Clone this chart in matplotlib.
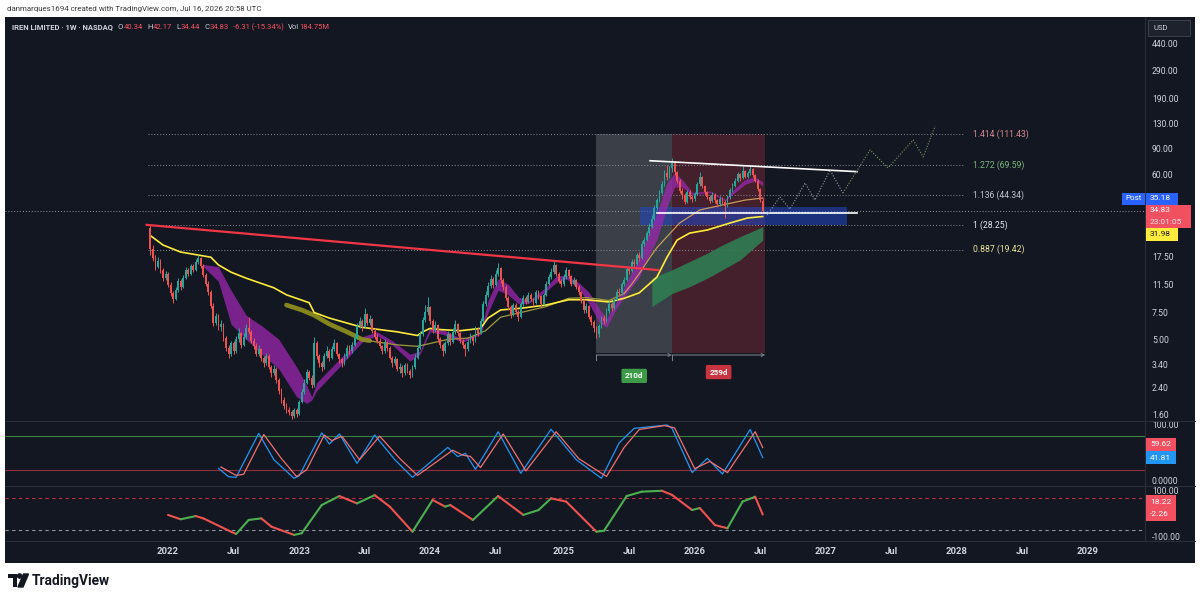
import numpy as np
import matplotlib.pyplot as plt
from matplotlib.patches import Rectangle, Circle, Polygon
from matplotlib.collections import LineCollection
from matplotlib.ticker import NullLocator

plt.rcParams['font.family'] = ['Roboto', 'DejaVu Sans']

W, H = 1200, 600
BG = '#131722'
TXT = '#d1d4dc'
UP = '#26a69a'
DOWN = '#ef5350'
RED = '#f7525f'

# ---- weekly candles, first bar = week of 2021-11-15 ----
week0 = np.datetime64('2021-11-15')
first_open = 27.0
last_open = 40.34
closes = [
    19.5, 17.2, 15.0, 16.4, 14.2, 12.6, 13.4, 11.4, 10.0, 9.2,
    10.6, 12.1, 11.0, 12.7, 14.3, 13.5, 15.1, 14.2, 16.1, 17.0,
    15.2, 13.3, 11.6, 10.2, 8.3, 6.4, 7.1, 6.0, 6.3, 5.1,
    4.4, 4.0, 4.7, 4.2, 5.0, 5.5, 4.6, 5.2, 5.9, 5.6,
    4.9, 4.5, 4.0, 4.3, 3.8, 3.5, 3.9, 3.3, 3.0, 3.2,
    2.7, 2.3, 2.0, 1.82, 1.72, 1.68, 1.56, 1.72, 1.62, 1.95,
    2.25, 2.6, 3.05, 2.8, 2.5, 4.7, 3.9, 3.5, 3.3, 3.9,
    4.2, 3.8, 4.3, 4.7, 4.0, 3.7, 3.5, 3.9, 4.4, 4.2,
    4.6, 5.1, 6.1, 6.6, 6.0, 7.3, 6.4, 6.8, 5.7, 5.2,
    4.9, 4.5, 4.2, 4.8, 4.4, 3.8, 3.5, 3.7, 3.2, 3.3,
    3.0, 3.4, 3.1, 2.9, 3.3, 3.8, 4.4, 5.4, 6.7, 7.6,
    8.1, 6.6, 5.8, 6.2, 5.0, 4.6, 4.2, 4.7, 5.4, 4.8,
    5.6, 6.3, 5.5, 4.9, 4.6, 4.3, 4.8, 5.2, 4.9, 5.8,
    5.5, 6.6, 8.5, 9.8, 11.2, 12.5, 11.4, 13.5, 14.8, 12.2,
    11.0, 9.3, 8.2, 7.3, 8.4, 7.6, 7.0, 8.5, 9.4, 8.8,
    9.8, 9.2, 8.6, 10.2, 9.6, 8.5, 9.8, 11.6, 12.9, 13.8,
    15.3, 13.4, 12.1, 11.5, 12.8, 14.2, 13.0, 11.6, 12.2, 11.0,
    10.2, 9.0, 7.8, 8.3, 7.0, 6.5, 5.9, 5.4, 6.1, 6.9,
    6.6, 7.7, 8.5, 8.0, 9.1, 10.3, 10.0, 11.5, 12.2, 14.4,
    14.0, 16.2, 15.5, 17.8, 17.0, 21.2, 22.4, 24.8, 27.5, 31.0,
    36.3, 40.8, 45.5, 52.0, 62.0, 58.0, 66.5, 72.0, 62.5, 55.0,
    47.0, 44.0, 40.0, 46.5, 43.0, 41.5, 45.0, 52.0, 58.0, 50.5,
    46.0, 43.0, 40.5, 44.5, 41.0, 38.5, 42.0, 40.0, 37.5, 43.0,
    47.5, 51.0, 55.0, 60.5, 57.0, 64.0, 58.5, 61.5, 66.0, 60.0,
    55.0, 48.5, 41.14, 34.83]
highs = [
    28.25, 20.8, 17.9, 17.3, 16.9, 14.8, 14.1, 13.8, 11.9, 10.4,
    11.0, 12.6, 12.4, 13.2, 15.0, 14.8, 15.7, 15.5, 16.8, 17.8,
    17.4, 15.6, 13.7, 12.0, 10.5, 8.6, 7.5, 7.3, 6.7, 6.4,
    5.3, 4.6, 4.9, 4.9, 5.3, 5.9, 5.6, 5.5, 6.3, 7.0,
    5.8, 5.1, 4.7, 4.6, 4.4, 3.9, 4.1, 4.0, 3.4, 3.4,
    3.3, 2.8, 2.4, 2.1, 1.9, 1.8, 1.72, 1.78, 1.76, 2.0,
    2.35, 2.75, 3.2, 3.15, 2.9, 5.2, 4.9, 4.0, 3.6, 4.1,
    4.5, 4.3, 4.5, 5.0, 4.8, 4.1, 3.8, 4.1, 4.6, 4.6,
    4.8, 5.4, 6.4, 7.0, 6.8, 8.0, 7.5, 7.2, 6.9, 5.9,
    5.4, 5.1, 4.6, 5.0, 4.9, 4.5, 3.9, 3.9, 3.8, 3.5,
    3.4, 3.5, 3.5, 3.2, 3.4, 4.0, 4.6, 5.7, 7.0, 8.4,
    9.5, 8.3, 6.8, 6.6, 6.3, 5.2, 4.7, 4.9, 5.7, 5.5,
    5.9, 6.7, 6.4, 5.6, 5.0, 4.7, 5.0, 5.5, 5.3, 6.1,
    6.0, 6.9, 8.9, 10.4, 11.9, 13.3, 12.8, 14.2, 15.8, 15.0,
    12.6, 11.3, 9.6, 8.4, 8.7, 8.6, 7.8, 8.8, 9.8, 9.6,
    10.2, 10.1, 9.4, 10.5, 10.5, 9.8, 10.1, 12.0, 13.5, 14.6,
    16.3, 15.6, 13.8, 12.5, 13.4, 15.0, 14.4, 13.3, 12.8, 12.4,
    11.3, 10.4, 9.2, 8.7, 8.4, 7.2, 6.7, 6.1, 6.3, 7.1,
    7.2, 8.0, 8.9, 8.8, 9.4, 10.7, 10.8, 11.9, 12.8, 15.0,
    15.1, 16.9, 16.8, 18.5, 18.6, 22.0, 23.6, 25.9, 28.8, 32.5,
    37.8, 42.5, 47.5, 54.5, 64.5, 70.0, 68.5, 76.9, 73.5, 64.0,
    56.5, 49.0, 45.5, 48.0, 47.5, 44.5, 46.5, 54.0, 63.0, 59.0,
    51.5, 47.0, 44.0, 46.0, 45.5, 42.0, 43.5, 43.0, 41.0, 44.5,
    49.0, 53.0, 57.0, 63.0, 62.0, 69.0, 65.0, 64.0, 68.5, 67.0,
    61.0, 56.0, 49.5, 42.17]
lows = [
    18.0, 16.4, 14.2, 14.6, 13.6, 12.0, 12.2, 11.0, 9.6, 8.7,
    9.0, 10.3, 10.6, 10.8, 12.4, 13.0, 13.2, 13.8, 14.0, 15.6,
    14.8, 12.9, 11.2, 9.8, 8.0, 6.1, 6.2, 5.8, 5.7, 4.9,
    4.2, 3.8, 3.9, 4.0, 4.1, 4.8, 4.4, 4.5, 5.0, 5.4,
    4.7, 4.3, 3.9, 3.9, 3.6, 3.3, 3.4, 3.2, 2.85, 2.9,
    2.6, 2.2, 1.9, 1.75, 1.65, 1.6, 1.5, 1.52, 1.55, 1.6,
    1.9, 2.2, 2.55, 2.7, 2.4, 2.45, 3.7, 3.3, 3.1, 3.2,
    3.8, 3.6, 3.7, 4.2, 3.9, 3.5, 3.3, 3.4, 3.8, 4.0,
    4.1, 4.5, 5.0, 5.9, 5.7, 5.9, 6.2, 6.2, 5.5, 5.0,
    4.7, 4.4, 4.0, 4.1, 4.2, 3.7, 3.3, 3.4, 3.1, 3.0,
    2.85, 2.9, 3.0, 2.8, 2.85, 3.2, 3.7, 4.3, 5.3, 6.5,
    7.2, 6.3, 5.5, 5.6, 4.8, 4.4, 3.9, 4.1, 4.6, 4.6,
    4.7, 5.4, 5.3, 4.7, 4.4, 3.9, 4.2, 4.7, 4.6, 4.8,
    5.3, 5.4, 6.5, 8.3, 9.5, 10.9, 10.8, 11.2, 13.1, 11.8,
    10.5, 9.0, 7.8, 6.9, 7.1, 7.3, 6.6, 6.9, 8.3, 8.5,
    8.6, 8.9, 8.3, 8.5, 9.2, 8.2, 8.4, 9.6, 11.3, 12.5,
    13.5, 13.0, 11.7, 11.0, 11.2, 12.5, 12.6, 11.2, 11.3, 10.7,
    9.8, 8.7, 7.5, 7.5, 6.8, 6.2, 5.6, 5.1, 5.2, 5.9,
    6.3, 6.5, 7.5, 7.7, 7.9, 9.0, 9.6, 9.8, 11.2, 12.0,
    13.4, 13.8, 14.9, 15.3, 16.4, 16.8, 20.5, 22.0, 24.2, 27.0,
    30.5, 35.5, 40.0, 44.8, 51.0, 55.5, 57.0, 63.0, 60.0, 53.0,
    45.5, 42.0, 38.5, 39.5, 41.5, 39.8, 40.5, 44.0, 51.0, 49.0,
    44.5, 41.5, 39.0, 40.0, 39.5, 37.0, 37.5, 38.5, 31.5, 37.0,
    42.0, 46.5, 50.0, 54.0, 55.0, 56.0, 57.0, 57.5, 60.0, 58.5,
    53.5, 47.0, 40.0, 34.44]
volume_label = '184.75M'
post_price = 35.18

# ---- overlays (week index, price) ----
vwap_idx = [0, 5, 12, 24, 27, 32, 38, 49, 54, 63, 65, 71, 84, 98, 106, 108, 111, 115, 123,
            131, 134, 139, 147, 157, 166, 173, 182, 188, 194, 201, 205, 209, 214, 221, 230, 237, 243]
vwap_val = [24.0, 20.8, 18.7, 17.3, 15.4, 13.8, 12.6, 10.9, 9.8, 8.7, 7.5, 6.9, 6.0, 5.6, 5.3, 5.6,
            5.9, 5.8, 5.7, 5.9, 6.9, 7.8, 8.0, 8.4, 9.1, 9.1, 8.8, 9.3, 10.1, 12.8, 17.3, 22.4,
            24.9, 26.1, 29.0, 31.3, 31.98]

sma_idx = [54, 60, 65, 71, 78, 84, 87, 90, 98, 106, 111, 118, 126, 133, 139, 147, 157, 166, 173,
           182, 188, 191, 194, 198, 201, 210, 218, 227, 236, 243]
sma_val = [8.4, 7.8, 7.2, 6.3, 5.6, 5.0, 4.9, 4.8, 4.6, 4.5, 4.7, 5.0, 5.1, 5.7, 7.0, 7.5, 8.2, 9.3,
           9.4, 9.0, 10.0, 11.5, 13.5, 17.0, 20.0, 29.0, 35.3, 38.1, 41.0, 42.3]

ribbon_idx = [21, 27, 32, 38, 45, 51, 58, 62, 64, 66, 75, 84, 90, 96, 103, 107, 111, 116, 124, 131,
              134, 138, 142, 146, 150, 157, 161, 165, 170, 174, 178, 181, 185, 190, 194, 198, 201,
              205, 208, 211, 215, 222, 228, 232, 236, 240, 243]
ribbon_top = [15.5, 15.0, 10.5, 7.2, 6.0, 5.0, 3.3, 2.5, 2.1, 2.6, 3.7, 5.2, 5.6, 4.9, 4.0, 4.2,
              6.0, 5.8, 5.0, 5.6, 9.0, 12.5, 11.5, 9.5, 8.9, 11.0, 13.0, 13.2, 11.8, 10.2, 8.0,
              6.8, 8.8, 12.8, 17.3, 26.0, 33.5, 53.0, 62.0, 56.0, 46.0, 47.0, 41.5, 49.0, 56.0,
              58.0, 54.0]
ribbon_bot = [15.0, 12.0, 6.3, 5.0, 3.9, 3.2, 2.1, 1.9, 2.0, 2.3, 3.3, 4.8, 5.3, 4.6, 3.6, 4.0,
              5.6, 5.4, 4.8, 5.4, 7.5, 10.5, 9.8, 8.6, 8.6, 10.3, 11.8, 12.5, 10.8, 8.6, 6.5,
              6.0, 8.0, 10.5, 12.8, 18.0, 22.5, 37.0, 50.0, 50.0, 44.5, 46.0, 40.5, 46.0, 52.0,
              55.0, 51.0]

cloud_idx = [199, 207, 214, 221, 227, 234, 243]
cloud_top = [12.6, 14.3, 16.2, 18.4, 20.8, 23.6, 27.4]
cloud_bot = [8.2, 10.0, 11.1, 12.6, 14.3, 16.6, 22.4]

# drawings
trend_idx = [-1.5, 201.4]
trend_val = [28.2, 14.25]
upper_idx = [198.3, 280.4]
upper_val = [74.3, 63.0]
lower_idx = [201, 280.4]
lower_val = [33.6, 33.6]
zone_idx = [194.3, 276.4]
zone_val = [28.2, 36.9]
path_idx = [244.7, 249.8, 253.8, 259.8, 263.7, 269.7, 274.8, 285.6, 292.7, 302.7, 306.7, 311.4]
path_val = [32.7, 43.0, 35.8, 53.1, 41.0, 64.6, 45.6, 87.4, 66.6, 101.6, 78.6, 125.6]
range_weeks = [177, 207, 244]
range_labels = ['210d', '259d']
range_top, range_bottom = 111.4, 4.07

fib_names = ['1.414', '1.272', '1.136', '1', '0.887']
fib_prices = [111.43, 69.59, 44.34, 28.25, 19.42]
fib_colors = ['#d98c92', '#7cb87c', '#c3c6ce', '#e8eaef', '#eee29a']

# ---- lower panes ----
k_idx = [27, 31, 34, 43, 49, 57, 59, 68, 71, 75, 82, 89, 97, 104, 118, 122, 125, 129, 138, 147,
         159, 169, 179, 186, 192, 205, 207, 215, 221, 227, 238, 243]
k_val = [22.6, 7.7, 6.5, 85, 38, 4.8, 9, 86, 66, 84, 31.5, 82, 38, 6.5, 60, 43.5, 49.4, 20.8, 88,
         13.7, 92.3, 38, 4.8, 68, 94, 100, 94, 15, 40.5, 12.5, 92, 41.81]
d_idx = [28, 34, 37, 45, 52, 58, 62, 69, 72, 76, 83, 91, 99, 106, 120, 124, 127, 131, 140, 149,
         161, 170, 181, 188, 194, 204, 208, 216, 222, 229, 240, 243]
d_val = [25, 10, 12, 83, 40, 8, 20, 82, 72, 80, 38, 80, 40, 10, 55, 46, 44, 24, 84, 18, 88, 40,
         8, 60, 92, 99, 95, 22, 35, 15, 88, 59.62]
osc_idx = [7, 12, 18, 21, 32, 34, 39, 44, 48, 57, 60, 68, 75, 82, 89, 95, 104, 112, 117, 119,
           128, 138, 148, 154, 159, 165, 177, 180, 189, 195, 203, 207, 215, 218, 224, 229, 235,
           240, 243]
osc_val = [-4, -23, -9, -19, -77, -87, -26, -19, -55, -91, -84, 39, 78, 46, 82, 32, -77, 61, 32,
           39, -26, 78, -4, 17, 68, 54, -77, -73, 78, 97, 101, 83, 17, 26, -48, -62, 54, 75, -2.26]
osc_signal = 18.22

tick_dates = ['2022-01-03', '2022-07-04', '2023-01-02', '2023-07-03', '2024-01-01', '2024-07-01',
              '2025-01-06', '2025-07-07', '2026-01-05', '2026-07-06', '2027-01-04', '2027-07-05',
              '2028-01-03', '2028-07-03', '2029-01-01']
tick_labels = ['2022', 'Jul', '2023', 'Jul', '2024', 'Jul', '2025', 'Jul', '2026', 'Jul',
               '2027', 'Jul', '2028', 'Jul', '2029']
price_ticks = [440, 290, 190, 130, 90, 60, 17.5, 11.5, 7.5, 5, 3.4, 2.4, 1.6]

# ---------------------------------------------------------------
fig = plt.figure(figsize=(W / 100, H / 100), dpi=100, facecolor='white')
inch = fig.dpi_scale_trans


def rect_px(x0, y0, x1, y1, fc, ec='none', lw=0, z=5):
    fig.add_artist(Rectangle((x0 / 100, (H - y1) / 100), (x1 - x0) / 100, (y1 - y0) / 100,
                             transform=inch, facecolor=fc, edgecolor=ec, lw=lw, zorder=z))


def text_px(x, y, s, z=6, **kw):
    kw.setdefault('va', 'center')
    return fig.text(x / W, 1 - y / H, s, zorder=z, **kw)


def line_px(x0, y0, x1, y1, color='#2a2e39', lw=0.8):
    fig.add_artist(plt.Line2D([x0 / 100, x1 / 100], [(H - y0) / 100, (H - y1) / 100],
                              transform=inch, color=color, lw=lw, zorder=4))


rect_px(5, 17, 1195, 563, BG, z=-1)


def pane(top, bottom):
    a = fig.add_axes([5 / W, 1 - bottom / H, 1140 / W, (bottom - top) / H])
    a.set_facecolor(BG)
    for s in a.spines.values():
        s.set_visible(False)
    a.set_xlim(-57.7, 394.7)
    a.yaxis.tick_right()
    a.tick_params(axis='y', length=0, pad=5, labelsize=6.2, labelcolor=TXT)
    a.tick_params(axis='x', length=0)
    return a


ax = pane(17, 421)
ax2 = pane(421, 486)
ax3 = pane(486, 541)

# price pane
ax.set_yscale('log')
ax.set_ylim(1.457, 651.7)
ax.yaxis.set_minor_locator(NullLocator())
ax.set_yticks(price_ticks, [f'{p:.2f}' for p in price_ticks])
ax.set_xticks([])

idx = np.arange(len(closes))
c = np.array(closes)
o = np.array([first_open] + closes[:-1])
o[-1] = last_open
h = np.array(highs)
l = np.array(lows)
cols = np.where(c >= o, UP, DOWN)

# measured ranges
ax.fill_between(range_weeks[:2], range_bottom, range_top, color='#3b3f48', lw=0, zorder=0.5)
ax.fill_between(range_weeks[1:], range_bottom, range_top, color='#43202b', lw=0, zorder=0.5)
for k in range(2):
    a0, a1 = range_weeks[k], range_weeks[k + 1]
    ax.annotate('', xy=(a1, 3.95), xytext=(a0, 3.95),
                arrowprops=dict(arrowstyle='->', color='#787b86', lw=0.8, shrinkA=0, shrinkB=0,
                                mutation_scale=5), zorder=3)
    ax.plot([a0, a0], [3.95, 3.66], color='#787b86', lw=0.8, zorder=3)
ax.text(sum(range_weeks[:2]) / 2, 2.88, range_labels[0], ha='center', va='center', color='white',
        fontsize=5.8, fontweight='bold', zorder=6,
        bbox=dict(boxstyle='round,pad=0.45,rounding_size=0.2', fc='#3d9a47', ec='none'))
ax.text(sum(range_weeks[1:]) / 2, 3.05, range_labels[1], ha='center', va='center', color='white',
        fontsize=5.8, fontweight='bold', zorder=6,
        bbox=dict(boxstyle='round,pad=0.45,rounding_size=0.2', fc='#c8343f', ec='none'))

# fib levels
ax.hlines(fib_prices, -1, 323, colors='#8a8d96', linestyles=(0, (1, 2)), lw=0.7, zorder=0.8)
for name, p, col in zip(fib_names, fib_prices, fib_colors):
    ax.text(326.5, p, f'{name} ({p:.2f})', color=col, fontsize=6.2, va='center', zorder=6)
ax.axhline(closes[-1], color='#9598a1', ls=(0, (1, 2)), lw=0.7, zorder=0.8)

# support zone
ax.fill_between(zone_idx, zone_val[0], zone_val[1], color='#2448c8', alpha=0.55, lw=0, zorder=1)

# moving averages / ribbons
ax.fill_between(cloud_idx, cloud_bot, cloud_top, color='#2f7d52', alpha=0.9, lw=0, zorder=1.5)
ax.fill_between(ribbon_idx, ribbon_bot, ribbon_top, color='#9c27b0', alpha=0.75, lw=0, zorder=1.6)
sma_idx_a = np.array(sma_idx)
sma_val_a = np.array(sma_val)
m1 = sma_idx_a <= 87
m2 = (sma_idx_a >= 87) & (sma_idx_a <= 188)
m3 = sma_idx_a >= 188
ax.plot(sma_idx_a[m1], sma_val_a[m1], color='#8c8c1e', lw=3.3, alpha=0.95, zorder=1.7,
        solid_capstyle='round')
ax.plot(sma_idx_a[m2], sma_val_a[m2], color='#9d9a3c', lw=0.9, zorder=1.7)
ax.plot(sma_idx_a[m3], sma_val_a[m3], color='#c99a5a', lw=0.9, zorder=1.7)
ax.plot(vwap_idx, vwap_val, color='#ffeb3b', lw=1.2, zorder=2.6)

# candles
ax.vlines(idx, l, h, colors=cols, lw=0.7, zorder=3)
bot = np.minimum(o, c)
ax.bar(idx, np.maximum(np.abs(c - o), bot * 0.012), bottom=bot, width=0.72, color=cols, lw=0,
       zorder=3)

# drawings
ax.plot(trend_idx, trend_val, color='#f23645', lw=1.6, zorder=4)
ax.plot(upper_idx, upper_val, color='white', lw=1.2, zorder=4)
ax.plot(lower_idx, lower_val, color='white', lw=1.2, zorder=4)
ax.plot(path_idx[:7], path_val[:7], color='#9598a1', lw=0.8, ls=(0, (1, 1.5)), zorder=4)
ax.plot(path_idx[6:], path_val[6:], color='#7c9a5c', lw=0.8, ls=(0, (1, 1.5)), zorder=4)

# stochastic pane
ax2.set_ylim(-8.93, 107.14)
ax2.set_yticks([100, 0], ['100.00', '0.0000'])
ax2.set_xticks([])
ax2.axhline(80, color='#4caf50', lw=0.8, alpha=0.7)
ax2.axhline(20, color='#e04050', lw=0.8, alpha=0.6)
ax2.plot(k_idx, k_val, color='#2196f3', lw=0.9)
ax2.plot(d_idx, d_val, color='#f07070', lw=0.9)

# oscillator pane
ax3.set_ylim(-117.4, 121.7)
ax3.set_yticks([100, -100], ['100.00', '-100.00'])
ax3.axhline(70, color='#f23645', lw=0.8, ls=(0, (3, 3)), alpha=0.8)
ax3.axhline(-70, color='#b2b5be', lw=0.8, ls=(0, (3, 3)), alpha=0.8)
pts = np.column_stack([osc_idx, osc_val])
segs = np.stack([pts[:-1], pts[1:]], axis=1)
seg_cols = ['#4caf50' if b > a else '#ef5350' for a, b in zip(osc_val[:-1], osc_val[1:])]
ax3.add_collection(LineCollection(segs, colors=seg_cols, lw=1.5, capstyle='round'))
tick_pos = [(np.datetime64(d) - week0) / np.timedelta64(7, 'D') for d in tick_dates]
ax3.set_xticks(tick_pos, tick_labels)
ax3.tick_params(axis='x', pad=4, labelsize=6.8, labelcolor=TXT)
for t in ax3.get_xticklabels():
    t.set_fontweight('bold')

# separators
line_px(5, 421, 1195, 421)
line_px(5, 486, 1195, 486)
line_px(1145, 17, 1145, 541)
line_px(5, 541, 1195, 541)

# header
text_px(7, 9, 'danmarques1694 created with TradingView.com, Jul 16, 2026 20:58 UTC',
        color='#3b3b3b', fontsize=5.7)
r = fig.canvas.get_renderer()
chg = closes[-1] - closes[-2]
pieces = [('IREN LIMITED · 1W · NASDAQ', TXT, 0, 'bold'), ('O', TXT, 5, 'normal'),
          (f'{o[-1]:.2f}', RED, 0.5, 'normal'), ('H', TXT, 4, 'normal'),
          (f'{highs[-1]:.2f}', RED, 0.5, 'normal'), ('L', TXT, 4, 'normal'),
          (f'{lows[-1]:.2f}', RED, 0.5, 'normal'), ('C', TXT, 4, 'normal'),
          (f'{closes[-1]:.2f}', RED, 0.5, 'normal'),
          (f'{chg:.2f} ({chg / closes[-2] * 100:.2f}%)', RED, 4, 'normal'),
          ('Vol', TXT, 4, 'normal'), (volume_label, RED, 0.5, 'normal')]
x = 12
for s, col, gap, fw in pieces:
    x += gap
    t = text_px(x, 27, s, color=col, fontsize=5.5, fontweight=fw)
    x += t.get_window_extent(renderer=r).width

# right-scale tags
rect_px(1148, 20, 1190, 36, '#1e222d', ec='#434651', lw=0.6)
text_px(1153, 28, 'USD', color=TXT, fontsize=5.5)
rect_px(1122, 192.5, 1145, 204.5, '#2962ff')
text_px(1125, 198.5, 'Post', color='white', fontsize=5.8)
rect_px(1146, 192.5, 1178, 204.5, '#2962ff')
text_px(1150, 198.5, f'{post_price:.2f}', color='white', fontsize=6.0)
rect_px(1146, 204.5, 1191, 228, '#f05060')
text_px(1150, 210.5, f'{closes[-1]:.2f}', color='white', fontsize=6.0)
text_px(1150, 221.5, '23:01:05', color='#ffe0e3', fontsize=6.0)
rect_px(1146, 228, 1178, 241, '#ffeb3b')
text_px(1150, 234.5, f'{vwap_val[-1]:.2f}', color=BG, fontsize=6.0)
rect_px(1146, 438, 1176, 451, '#f05060')
text_px(1150, 444.5, f'{d_val[-1]:.2f}', color='white', fontsize=6.0)
rect_px(1146, 451, 1176, 464, '#2196f3')
text_px(1150, 457.5, f'{k_val[-1]:.2f}', color='white', fontsize=6.0)
rect_px(1146, 495, 1176, 521, '#f05060')
text_px(1150, 501.5, f'{osc_signal:.2f}', color='white', fontsize=6.0)
text_px(1150, 514.5, f'{osc_val[-1]:.2f}', color='white', fontsize=6.0)

# TradingView logo
rect_px(8, 574, 16.5, 578, '#131722', z=6)
rect_px(12.5, 574, 16.5, 587, '#131722', z=6)
fig.add_artist(Circle((19.6 / 100, (H - 576) / 100), 0.021, transform=inch, color='#131722',
                      zorder=6))
fig.add_artist(Polygon([(18 / 100, (H - 587) / 100), (23 / 100, (H - 587) / 100),
                        (28.5 / 100, (H - 574) / 100), (23.5 / 100, (H - 574) / 100)],
                       closed=True, transform=inch, color='#131722', zorder=6))
text_px(32, 580.5, 'TradingView', color='#131722', fontsize=9.9, fontweight='bold')

fig.savefig('out.png', dpi=100, facecolor='white')
